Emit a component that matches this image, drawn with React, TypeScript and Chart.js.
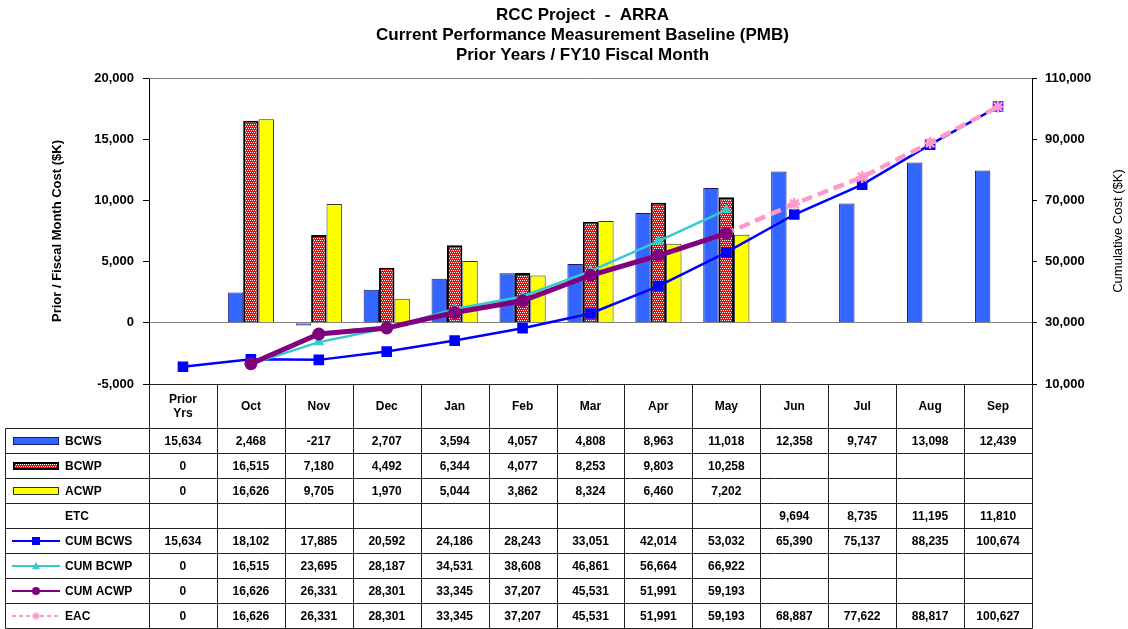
import React, { useEffect, useRef } from 'react';
import { Chart, registerables } from 'chart.js';

Chart.register(...registerables);

const titleLines = ['RCC Project  -  ARRA', 'Current Performance Measurement Baseline (PMB)', 'Prior Years / FY10 Fiscal Month'];
const leftAxisTitle = 'Prior / Fiscal Month Cost ($K)';
const rightAxisTitle = 'Cumulative Cost ($K)';

const categories = ['Prior Yrs', 'Oct', 'Nov', 'Dec', 'Jan', 'Feb', 'Mar', 'Apr', 'May', 'Jun', 'Jul', 'Aug', 'Sep'];

const bcws = [15634, 2468, -217, 2707, 3594, 4057, 4808, 8963, 11018, 12358, 9747, 13098, 12439];
const bcwp = [0, 16515, 7180, 4492, 6344, 4077, 8253, 9803, 10258, null, null, null, null];
const acwp = [0, 16626, 9705, 1970, 5044, 3862, 8324, 6460, 7202, null, null, null, null];
const etc = [null, null, null, null, null, null, null, null, null, 9694, 8735, 11195, 11810];
const cumBcws = [15634, 18102, 17885, 20592, 24186, 28243, 33051, 42014, 53032, 65390, 75137, 88235, 100674];
const cumBcwp = [0, 16515, 23695, 28187, 34531, 38608, 46861, 56664, 66922, null, null, null, null];
const cumAcwp = [0, 16626, 26331, 28301, 33345, 37207, 45531, 51991, 59193, null, null, null, null];
const eac = [0, 16626, 26331, 28301, 33345, 37207, 45531, 51991, 59193, 68887, 77622, 88817, 100627];

const leftMin = -5000;
const leftMax = 20000;
const leftStep = 5000;
const rightMin = 10000;
const rightMax = 110000;
const rightStep = 20000;

const C_BCWS = '#3366FF';
const C_BCWP = '#FF0000';
const C_ACWP = '#FFFF00';
const C_CUMBCWS = '#0000FF';
const C_CUMBCWP = '#33CCCC';
const C_CUMACWP = '#800080';
const C_EAC = '#FF99CC';

const FONT = '"Liberation Sans", Arial, sans-serif';

// The "Prior Yrs" column is only plotted for CUM BCWS; elsewhere it is a gap.
const skipPrior = (arr: (number | null)[]) => arr.map((v, i) => (i === 0 ? null : v));

function makePattern(): CanvasPattern | string {
  const c = document.createElement('canvas');
  c.width = 4;
  c.height = 4;
  const g = c.getContext('2d');
  if (!g) return C_BCWP;
  g.fillStyle = C_BCWP;
  g.fillRect(0, 0, 4, 4);
  g.fillStyle = '#FFFFFF';
  g.fillRect(0, 0, 1, 1);
  g.fillRect(2, 0, 1, 1);
  g.fillRect(1, 2, 1, 1);
  g.fillRect(3, 2, 1, 1);
  return g.createPattern(c, 'repeat') || C_BCWP;
}

const fmt = (v: number | null) => (v === null ? '' : v.toLocaleString('en-US'));

function drawMarker(ctx: CanvasRenderingContext2D, style: string, x: number, y: number, r: number, color: string) {
  ctx.save();
  ctx.fillStyle = color;
  ctx.strokeStyle = color;
  ctx.lineWidth = 1.5;
  ctx.setLineDash([]);
  ctx.beginPath();
  if (style === 'rect') {
    ctx.fillRect(x - r, y - r, 2 * r, 2 * r);
  } else if (style === 'triangle') {
    ctx.moveTo(x, y - r);
    ctx.lineTo(x + r, y + r * 0.8);
    ctx.lineTo(x - r, y + r * 0.8);
    ctx.closePath();
    ctx.fill();
  } else if (style === 'circle') {
    ctx.arc(x, y, r, 0, Math.PI * 2);
    ctx.fill();
  } else if (style === 'star') {
    ctx.moveTo(x - r, y);
    ctx.lineTo(x + r, y);
    ctx.moveTo(x, y - r);
    ctx.lineTo(x, y + r);
    ctx.moveTo(x - r * 0.7, y - r * 0.7);
    ctx.lineTo(x + r * 0.7, y + r * 0.7);
    ctx.moveTo(x - r * 0.7, y + r * 0.7);
    ctx.lineTo(x + r * 0.7, y - r * 0.7);
    ctx.stroke();
  }
  ctx.restore();
}

export default function App() {
  const ref = useRef<HTMLCanvasElement | null>(null);

  useEffect(() => {
    const canvas = ref.current;
    if (!canvas) return;
    const pattern = makePattern();

    const tableRows = [
      { label: 'BCWS', values: bcws, key: 'bar', fill: C_BCWS, border: '#1a1a66', bw: 1 },
      { label: 'BCWP', values: bcwp, key: 'bar', fill: pattern, border: '#000000', bw: 2 },
      { label: 'ACWP', values: acwp, key: 'bar', fill: C_ACWP, border: '#333333', bw: 1 },
      { label: 'ETC', values: etc, key: 'none' },
      { label: 'CUM BCWS', values: cumBcws, key: 'line', color: C_CUMBCWS, marker: 'rect', mr: 4 },
      { label: 'CUM BCWP', values: cumBcwp, key: 'line', color: C_CUMBCWP, marker: 'triangle', mr: 4 },
      { label: 'CUM ACWP', values: cumAcwp, key: 'line', color: C_CUMACWP, marker: 'circle', mr: 4 },
      { label: 'EAC', values: eac, key: 'dash', color: C_EAC, marker: 'star', mr: 4 },
    ];

    const decor = {
      id: 'decor',
      afterDraw(chart: any) {
        const { ctx, chartArea: a } = chart;
        const n = categories.length;
        const colW = (a.right - a.left) / n;
        ctx.save();

        // title
        ctx.fillStyle = '#000';
        ctx.textAlign = 'center';
        ctx.textBaseline = 'middle';
        ctx.font = `bold 17px ${FONT}`;
        titleLines.forEach((t, i) => ctx.fillText(t, (a.left + a.right) / 2 - 8, 15 + i * 20));

        // axis titles
        ctx.save();
        ctx.translate(57, (a.top + a.bottom) / 2);
        ctx.rotate(-Math.PI / 2);
        ctx.font = `bold 13px ${FONT}`;
        ctx.fillText(leftAxisTitle, 0, 0);
        ctx.restore();
        ctx.save();
        ctx.translate(1118, (a.top + a.bottom) / 2);
        ctx.rotate(-Math.PI / 2);
        ctx.font = `13px ${FONT}`;
        ctx.fillText(rightAxisTitle, 0, 0);
        ctx.restore();

        // plot border
        ctx.strokeStyle = '#808080';
        ctx.lineWidth = 1;
        ctx.beginPath();
        ctx.moveTo(a.left, Math.round(a.top) + 0.5);
        ctx.lineTo(a.right, Math.round(a.top) + 0.5);
        ctx.stroke();

        // table
        const headerTop = Math.round(a.bottom) + 0.5;
        const headerH = 44;
        const rowH = 25;
        const rowsTop = headerTop + headerH;
        const tableBottom = rowsTop + rowH * tableRows.length;
        const labelLeft = 5.5;
        ctx.strokeStyle = '#222';
        ctx.lineWidth = 1;
        ctx.beginPath();
        ctx.moveTo(a.left, headerTop);
        ctx.lineTo(a.right, headerTop);
        for (let i = 0; i <= n; i++) {
          const xx = Math.round(a.left + i * colW) + 0.5;
          ctx.moveTo(xx, headerTop);
          ctx.lineTo(xx, tableBottom);
        }
        for (let r = 0; r <= tableRows.length; r++) {
          const yy = rowsTop + r * rowH;
          ctx.moveTo(labelLeft, yy);
          ctx.lineTo(Math.round(a.right) + 0.5, yy);
        }
        ctx.moveTo(labelLeft, rowsTop);
        ctx.lineTo(labelLeft, tableBottom);
        ctx.stroke();

        // header text
        ctx.fillStyle = '#000';
        ctx.font = `bold 12px ${FONT}`;
        ctx.textAlign = 'center';
        ctx.textBaseline = 'middle';
        categories.forEach((c, i) => {
          const cx = a.left + (i + 0.5) * colW;
          const parts = c.split(' ');
          const cy = headerTop + headerH / 2;
          if (parts.length === 1) ctx.fillText(c, cx, cy);
          else parts.forEach((p, k) => ctx.fillText(p, cx, cy + (k - (parts.length - 1) / 2) * 14));
        });

        // rows
        tableRows.forEach((row: any, r) => {
          const cy = rowsTop + r * rowH + rowH / 2;
          ctx.fillStyle = '#000';
          ctx.font = `bold 12px ${FONT}`;
          ctx.textAlign = 'center';
          row.values.forEach((v: number | null, i: number) => {
            ctx.fillText(fmt(v), a.left + (i + 0.5) * colW, cy + 0.5);
          });
          ctx.textAlign = 'left';
          ctx.fillText(row.label, 65, cy + 0.5);
          if (row.key === 'bar') {
            ctx.fillStyle = row.fill;
            ctx.fillRect(13, cy - 4, 46, 8);
            ctx.strokeStyle = row.border;
            ctx.lineWidth = row.bw;
            ctx.strokeRect(13 + row.bw / 2, cy - 4 + row.bw / 2, 46 - row.bw, 8 - row.bw);
          } else if (row.key === 'line' || row.key === 'dash') {
            ctx.strokeStyle = row.color;
            ctx.lineWidth = 2;
            ctx.setLineDash(row.key === 'dash' ? [4, 3] : []);
            ctx.beginPath();
            ctx.moveTo(12, cy);
            ctx.lineTo(60, cy);
            ctx.stroke();
            ctx.setLineDash([]);
            drawMarker(ctx, row.marker, 36, cy, row.mr, row.color);
          }
        });
        ctx.restore();
      },
    };

    const chart = new Chart(canvas, {
      type: 'bar',
      data: {
        labels: categories,
        datasets: [
          {
            type: 'line',
            label: 'CUM ACWP',
            data: skipPrior(cumAcwp),
            yAxisID: 'y2',
            borderColor: C_CUMACWP,
            backgroundColor: C_CUMACWP,
            borderWidth: 5,
            pointStyle: 'circle',
            pointRadius: 6.5,
            pointBorderWidth: 0,
            order: 1,
          },
          {
            type: 'line',
            label: 'CUM BCWP',
            data: skipPrior(cumBcwp),
            yAxisID: 'y2',
            borderColor: C_CUMBCWP,
            backgroundColor: C_CUMBCWP,
            borderWidth: 2.5,
            pointStyle: 'triangle',
            pointRadius: 5.5,
            pointBorderWidth: 1,
            order: 2,
          },
          {
            type: 'line',
            label: 'EAC',
            data: skipPrior(eac),
            yAxisID: 'y2',
            borderColor: C_EAC,
            backgroundColor: C_EAC,
            borderWidth: 4.5,
            borderDash: [11, 6],
            pointStyle: 'star',
            pointRadius: 6,
            pointBorderWidth: 2.5,
            order: 3,
          },
          {
            type: 'line',
            label: 'CUM BCWS',
            data: cumBcws,
            yAxisID: 'y2',
            borderColor: C_CUMBCWS,
            backgroundColor: C_CUMBCWS,
            borderWidth: 2.5,
            pointStyle: 'rect',
            pointRadius: 7.5,
            pointBorderWidth: 0,
            order: 4,
          },
          {
            type: 'bar',
            label: 'BCWS',
            data: skipPrior(bcws),
            yAxisID: 'y',
            backgroundColor: C_BCWS,
            borderColor: '#1a1a66',
            borderWidth: 1,
            order: 10,
          },
          {
            type: 'bar',
            label: 'BCWP',
            data: skipPrior(bcwp),
            yAxisID: 'y',
            backgroundColor: pattern as any,
            borderColor: '#000000',
            borderWidth: 2,
            order: 10,
          },
          {
            type: 'bar',
            label: 'ACWP',
            data: skipPrior(acwp),
            yAxisID: 'y',
            backgroundColor: C_ACWP,
            borderColor: '#333333',
            borderWidth: 1,
            order: 10,
          },
        ] as any,
      },
      options: {
        responsive: false,
        animation: false,
        devicePixelRatio: 1,
        layout: { padding: { left: 0, right: 0, top: 78, bottom: 245 } },
        datasets: {
          bar: { categoryPercentage: 0.68, barPercentage: 1.0 },
        },
        plugins: {
          legend: { display: false },
          tooltip: { enabled: false },
          title: { display: false },
        },
        scales: {
          x: {
            display: false,
            offset: true,
          },
          y: {
            position: 'left',
            min: leftMin,
            max: leftMax,
            afterFit: (s: any) => {
              s.width = 149;
            },
            ticks: {
              stepSize: leftStep,
              padding: 9,
              color: '#000',
              font: { family: FONT, size: 13, weight: 'bold' },
            },
            grid: {
              color: (c: any) => (c.tick && c.tick.value === 0 ? '#808080' : 'rgba(0,0,0,0)'),
              tickColor: '#000',
              tickLength: 6,
              drawOnChartArea: true,
            },
            border: { color: '#000', width: 1 },
          },
          y2: {
            position: 'right',
            min: rightMin,
            max: rightMax,
            afterFit: (s: any) => {
              s.width = 96;
            },
            ticks: {
              stepSize: rightStep,
              padding: 8,
              color: '#000',
              font: { family: FONT, size: 13, weight: 'bold' },
            },
            grid: {
              drawOnChartArea: false,
              tickColor: '#000',
              tickLength: 5,
            },
            border: { color: '#000', width: 1 },
          },
        },
      } as any,
      plugins: [decor],
    });

    return () => chart.destroy();
  }, []);

  return (
    <div style={{ position: 'absolute', left: 0, top: 0, width: 1128, height: 629, background: '#fff' }}>
      <canvas ref={ref} width={1128} height={629} style={{ width: 1128, height: 629, display: 'block' }} />
    </div>
  );
}
